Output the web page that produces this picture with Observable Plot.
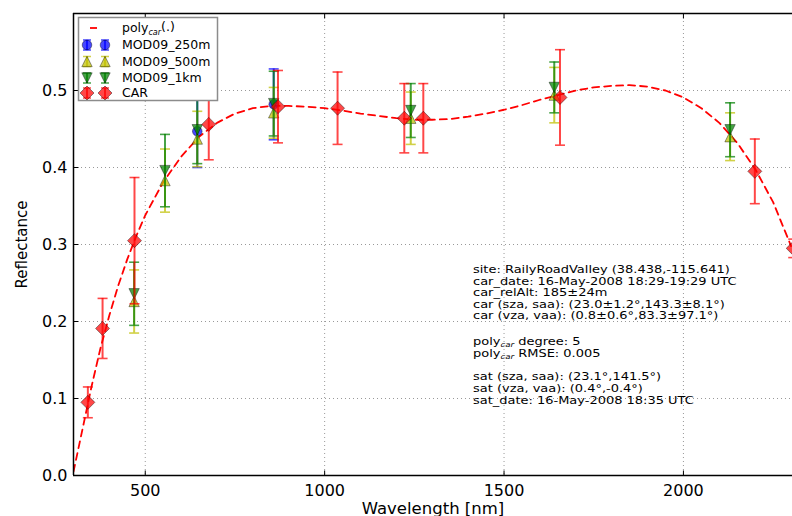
<!DOCTYPE html>
<html><head><meta charset="utf-8">
<script src="https://cdn.jsdelivr.net/npm/d3@7"></script>
<script src="https://cdn.jsdelivr.net/npm/@observablehq/plot@0.6"></script>
<style>
html,body{margin:0;padding:0;background:#fff;}
#wrap{position:relative;width:792px;height:516px;overflow:hidden;font-family:"DejaVu Sans",sans-serif;}
#wrap > svg{display:block;}
.ann{position:absolute;left:473px;font-size:10.5px;line-height:10.5px;height:10.5px;color:#000;white-space:pre;transform:scaleX(1.235);transform-origin:0 0;}
.sub{font-style:italic;font-size:7px;position:relative;top:2px;}
</style></head><body><div id="wrap"></div>
<script>
// ---------------- data ----------------
const carWl  = [340, 381, 470, 677, 870, 1036, 1222, 1275, 1656, 2199, 2306];
const carVal = [0.095, 0.191, 0.305, 0.456, 0.479, 0.477, 0.464, 0.464, 0.491, 0.395, 0.295];
const carErr = [0.020, 0.039, 0.082, 0.046, 0.047, 0.047, 0.045, 0.045, 0.062, 0.042, 0.012];

const mod250Wl  = [645, 858];
const mod250Val = [0.447, 0.482];
const mod250Err = [0.047, 0.046];

const mod500Wl  = [469, 555, 645, 858, 1240, 1640, 2130];
const mod500Val = [0.226, 0.383, 0.437, 0.471, 0.464, 0.494, 0.440];
const mod500Err = [0.041, 0.041, 0.036, 0.033, 0.034, 0.036, 0.031];

const mod1kmWl  = [469, 555, 645, 858, 1240, 1640, 2130];
const mod1kmVal = [0.236, 0.396, 0.449, 0.483, 0.474, 0.504, 0.449];
const mod1kmErr = [0.041, 0.047, 0.044, 0.042, 0.035, 0.033, 0.035];

const polyWl  = [300,325,350,375,400,425,450,475,500,550,600,650,700,750,800,850,900,950,1000,1050,1100,1150,1200,1250,1300,1350,1400,1450,1500,1550,1600,1650,1700,1750,1800,1850,1900,1950,2000,2050,2100,2150,2200,2250,2300];
const polyVal = [0.005,0.060,0.115,0.165,0.208,0.247,0.281,0.311,0.338,0.381,0.414,0.440,0.458,0.470,0.477,0.480,0.480,0.479,0.477,0.474,0.470,0.467,0.464,0.462,0.462,0.463,0.466,0.470,0.475,0.481,0.488,0.494,0.500,0.504,0.506,0.507,0.505,0.500,0.491,0.477,0.458,0.432,0.398,0.355,0.298];

const xTicks = [500, 1000, 1500, 2000];
const yTicks = [0.0, 0.1, 0.2, 0.3, 0.4, 0.5];
const xDomain = [300, 2304];
const yDomain = [0, 0.6];
const xLabel = "Wavelength [nm]";
const yLabel = "Reflectance";
const seriesNames = ["MOD09_250m", "MOD09_500m", "MOD09_1km", "CAR"];
const seriesColors = ["#0000ff", "#bfbf00", "#008000", "#ff0000"];
const annotationLines = [
  ["site: RailyRoadValley (38.438,-115.641)"],
  ["car_date: 16-May-2008 18:29-19:29 UTC"],
  ["car_relAlt: 185\u00b124m"],
  ["car (sza, saa): (23.0\u00b11.2\u00b0,143.3\u00b18.1\u00b0)"],
  ["car (vza, vaa): (0.8\u00b10.6\u00b0,83.3\u00b197.1\u00b0)"],
  null,
  ["poly", "car", " degree: 5"],
  ["poly", "car", " RMSE: 0.005"],
  null,
  ["sat (sza, saa): (23.1\u00b0,141.5\u00b0)"],
  ["sat (vza, vaa): (0.4\u00b0,-0.4\u00b0)"],
  ["sat_date: 16-May-2008 18:35 UTC"]
];

// ---------------- symbols ----------------
const rad = s => Math.sqrt(s / Math.PI);
const SYM = {
  circle:  {draw(c, s) { const r = rad(s); c.moveTo(r, 0); c.arc(0, 0, r, 0, 2 * Math.PI); c.closePath(); }},
  up:      {draw(c, s) { const r = rad(s); c.moveTo(0, -r); c.lineTo(r, r); c.lineTo(-r, r); c.closePath(); }},
  down:    {draw(c, s) { const r = rad(s); c.moveTo(0, r); c.lineTo(r, -r); c.lineTo(-r, -r); c.closePath(); }},
  diamond: {draw(c, s) { const r = rad(s); c.moveTo(0, -r); c.lineTo(r, 0); c.lineTo(0, r); c.lineTo(-r, 0); c.closePath(); }},
  cap:     {draw(c, s) { const r = rad(s); c.moveTo(-r, 0); c.lineTo(r, 0); }},
  tickUp:  {draw(c, s) { const r = rad(s); c.moveTo(0, 0); c.lineTo(0, -r); }},
  tickDown:{draw(c, s) { const r = rad(s); c.moveTo(0, 0); c.lineTo(0, r); }},
  tickRight:{draw(c, s) { const r = rad(s); c.moveTo(0, 0); c.lineTo(r, 0); }}
};

const rows = (wl, val, err) => wl.map((w, i) => ({wl: w, v: val[i], lo: val[i] - err[i], hi: val[i] + err[i]}));
const series = [
  {data: rows(mod250Wl, mod250Val, mod250Err), color: seriesColors[0], sym: SYM.circle, r: 4.8},
  {data: rows(mod500Wl, mod500Val, mod500Err), color: seriesColors[1], sym: SYM.up, r: 5.2},
  {data: rows(mod1kmWl, mod1kmVal, mod1kmErr), color: seriesColors[2], sym: SYM.down, r: 5.2},
  {data: rows(carWl, carVal, carErr), color: seriesColors[3], sym: SYM.diamond, r: 7}
];
const polyRows = polyWl.map((w, i) => ({wl: w, v: polyVal[i]}));

const A = 0.72;
const seriesMarks = series.flatMap(s => [
  Plot.ruleX(s.data, {x: "wl", y1: "lo", y2: "hi", stroke: s.color, strokeOpacity: A, strokeWidth: 2}),
  Plot.dot(s.data, {x: "wl", y: "lo", symbol: SYM.cap, r: 5, fill: "none", stroke: s.color, strokeOpacity: A, strokeWidth: 1.6}),
  Plot.dot(s.data, {x: "wl", y: "hi", symbol: SYM.cap, r: 5, fill: "none", stroke: s.color, strokeOpacity: A, strokeWidth: 1.6}),
  Plot.dot(s.data, {x: "wl", y: "v", symbol: s.sym, r: s.r, fill: s.color, fillOpacity: A, stroke: "#000", strokeOpacity: 0.4, strokeWidth: 1})
]);

const chart = Plot.plot({
  width: 792, height: 516,
  marginLeft: 73, marginRight: 0, marginTop: 13, marginBottom: 41,
  style: {fontFamily: "DejaVu Sans, sans-serif", fontSize: "16px", color: "#000", background: "#fff"},
  x: {domain: xDomain},
  y: {domain: yDomain},
  marks: [
    Plot.gridX(xTicks, {stroke: "#999", strokeOpacity: 1, strokeWidth: 1, strokeDasharray: "1,3"}),
    Plot.gridY(yTicks.slice(1), {stroke: "#999", strokeOpacity: 1, strokeWidth: 1, strokeDasharray: "1,3"}),
    Plot.axisX(xTicks, {tickSize: 0, tickPadding: 9, tickFormat: d3.format("d"), fontSize: 16,
      label: xLabel, labelAnchor: "center", labelArrow: "none", labelOffset: 38}),
    Plot.axisY(yTicks, {tickSize: 0, tickPadding: 6, tickFormat: d3.format(".1f"), fontSize: 16,
      label: yLabel, labelAnchor: "center", labelArrow: "none", labelOffset: 57}),
    Plot.line(polyRows, {x: "wl", y: "v", stroke: "#ff0000", strokeWidth: 1.8, strokeDasharray: "7,5", clip: true}),
    ...seriesMarks,
    Plot.ruleX([xDomain[0]], {stroke: "#000", strokeWidth: 1.5}),
    Plot.ruleY([yDomain[0], yDomain[1]], {stroke: "#000", strokeWidth: 1.5}),
    Plot.dot(xTicks, {x: d => d, y: yDomain[0], symbol: SYM.tickUp, r: 5, fill: "none", stroke: "#000", strokeWidth: 1}),
    Plot.dot(xTicks, {x: d => d, y: yDomain[1], symbol: SYM.tickDown, r: 5, fill: "none", stroke: "#000", strokeWidth: 1}),
    Plot.dot(yTicks, {x: xDomain[0], y: d => d, symbol: SYM.tickRight, r: 5, fill: "none", stroke: "#000", strokeWidth: 1})
  ]
});
const wrap = document.getElementById("wrap");
wrap.appendChild(chart);

// axis label sizes
d3.select(chart).selectAll('[aria-label="x-axis label"] text').attr("font-size", 16.5);
d3.select(chart).selectAll('[aria-label="y-axis label"] text').attr("font-size", 15);

// ---------------- legend ----------------
const lg = d3.select(wrap).append("svg")
  .attr("width", 792).attr("height", 516)
  .style("position", "absolute").style("left", "0px").style("top", "0px");
lg.append("rect").attr("x", 78.5).attr("y", 17.5).attr("width", 139).attr("height", 83)
  .attr("fill", "#fff").attr("stroke", "#8c8c8c").attr("stroke-width", 1.5);
const rowY = [28, 45, 61.5, 78, 93];
const mx = [87, 105];
// poly line entry
lg.append("line").attr("x1", 90).attr("x2", 97).attr("y1", rowY[0]).attr("y2", rowY[0])
  .attr("stroke", "#ff0000").attr("stroke-width", 1.8);
const t0 = lg.append("text").attr("x", 122).attr("y", rowY[0]).attr("dy", "0.35em")
  .attr("font-family", "DejaVu Sans, sans-serif").attr("font-size", 12.5);
t0.append("tspan").text("poly");
t0.append("tspan").attr("font-size", 8).attr("font-style", "italic").attr("dy", "0.3em").text("car");
t0.append("tspan").attr("dy", "-0.3em").text("(.)");
series.forEach((s, i) => {
  const y = rowY[i + 1];
  mx.forEach(x => {
    lg.append("line").attr("x1", x).attr("x2", x).attr("y1", y - 5).attr("y2", y + 5)
      .attr("stroke", s.color).attr("stroke-opacity", A).attr("stroke-width", 2);
    [y - 5, y + 5].forEach(cy => lg.append("line").attr("x1", x - 4).attr("x2", x + 4).attr("y1", cy).attr("y2", cy)
      .attr("stroke", s.color).attr("stroke-opacity", A).attr("stroke-width", 1.5));
    lg.append("path").attr("transform", `translate(${x},${y})`)
      .attr("d", d3.symbol(s.sym, Math.PI * s.r * s.r)())
      .attr("fill", s.color).attr("fill-opacity", A).attr("stroke", "#000").attr("stroke-opacity", 0.4);
  });
  lg.append("text").attr("x", 122).attr("y", y).attr("dy", "0.35em")
    .attr("font-family", "DejaVu Sans, sans-serif").attr("font-size", 12.5).text(seriesNames[i]);
});

// ---------------- annotation ----------------
const lineTops = [264, 276, 287, 298.5, 310, null, 336, 348, null, 371, 383, 395];
annotationLines.forEach((ln, i) => {
  if (!ln) return;
  const div = document.createElement("div");
  div.className = "ann";
  div.style.top = lineTops[i] + "px";
  if (ln.length === 1) div.textContent = ln[0];
  else {
    div.appendChild(document.createTextNode(ln[0]));
    const sp = document.createElement("span"); sp.className = "sub"; sp.textContent = ln[1];
    div.appendChild(sp);
    div.appendChild(document.createTextNode(ln[2]));
  }
  wrap.appendChild(div);
});
</script></body></html>
